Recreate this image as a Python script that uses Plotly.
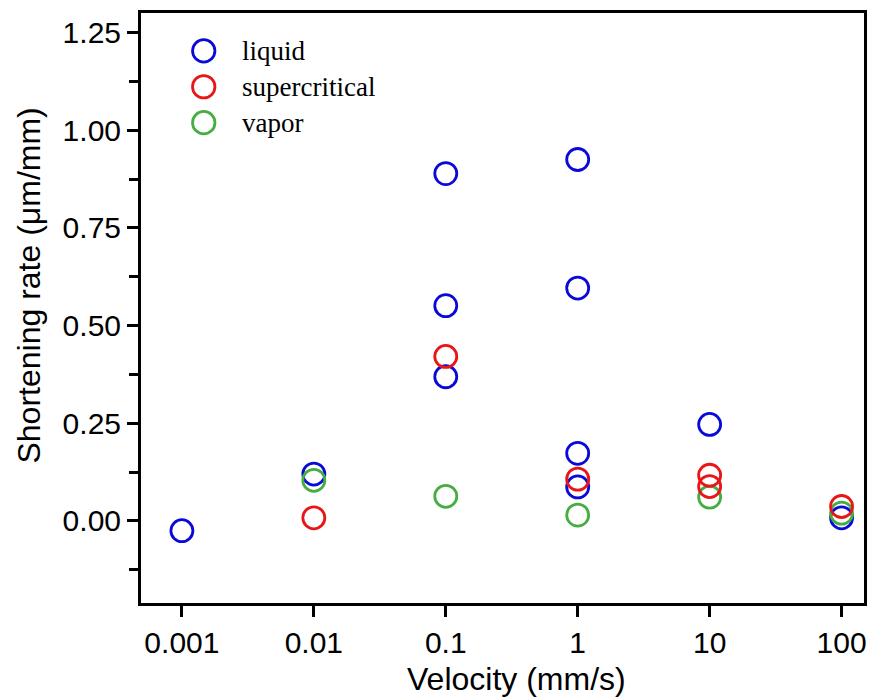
import plotly.graph_objects as go

# Data
liquid_x = [0.001, 0.01, 0.1, 0.1, 0.1, 1, 1, 1, 1, 10, 100]
liquid_y = [-0.025, 0.12, 0.889, 0.551, 0.369, 0.925, 0.596, 0.173, 0.087, 0.247, 0.008]

supercritical_x = [0.01, 0.1, 1, 10, 10, 100]
supercritical_y = [0.008, 0.421, 0.107, 0.117, 0.088, 0.037]

vapor_x = [0.01, 0.1, 1, 10, 100]
vapor_y = [0.104, 0.063, 0.015, 0.061, 0.02]

x_tickvals = [0.001, 0.01, 0.1, 1, 10, 100]
x_ticktext = ["0.001", "0.01", "0.1", "1", "10", "100"]
y_tickvals = [0.0, 0.25, 0.5, 0.75, 1.0, 1.25]
y_ticktext = ["0.00", "0.25", "0.50", "0.75", "1.00", "1.25"]

x_title = "Velocity (mm/s)"
y_title = "Shortening rate (μm/mm)"

series_names = ["liquid", "supercritical", "vapor"]
colors = {"liquid": "#0a0ad8", "supercritical": "#e81616", "vapor": "#46ad42"}

fig = go.Figure()
# drawing order: liquid, vapor, supercritical (supercritical on top)
for name, xs, ys in [("liquid", liquid_x, liquid_y),
                     ("vapor", vapor_x, vapor_y),
                     ("supercritical", supercritical_x, supercritical_y)]:
    fig.add_trace(go.Scatter(
        x=xs, y=ys, mode="markers", name=name, showlegend=False,
        marker=dict(symbol="circle-open", size=22, color=colors[name],
                    line=dict(width=2.8, color=colors[name])),
    ))

# Legend drawn as shapes + text to allow large symbols
L, R, T, B = 141, 867, 11, 603
W, H = R - L, B - T
leg_x_px = 204
leg_text_px = 240
leg_rows_px = [49, 85, 121]
for name, row in zip(series_names, leg_rows_px):
    xp = (leg_x_px - L) / W
    yp = (B - row) / H
    fig.add_shape(type="circle", xref="paper", yref="paper",
                  xsizemode="pixel", ysizemode="pixel",
                  xanchor=xp, yanchor=yp, x0=-11.2, x1=11.2, y0=-11.2, y1=11.2,
                  line=dict(color=colors[name], width=2.8))
    fig.add_annotation(x=(leg_text_px - L) / W, y=yp, xref="paper", yref="paper",
                       text=name, showarrow=False, xanchor="left", yanchor="middle",
                       font=dict(family="Liberation Serif, Times New Roman, serif",
                                 size=27, color="black"))

axis_font = dict(family="Liberation Sans, Arial, sans-serif", size=30, color="black")
title_font = dict(family="Liberation Sans, Arial, sans-serif", size=32, color="black")

fig.update_xaxes(
    type="log", range=[-3.31, 2.17],
    tickvals=x_tickvals, ticktext=x_ticktext,
    showgrid=False, zeroline=False,
    showline=True, linecolor="black", linewidth=3, mirror=True,
    ticks="outside", ticklen=11, tickwidth=2.5, tickcolor="black",
    tickfont=axis_font,
)
fig.update_yaxes(
    range=[-0.21, 1.3],
    tickvals=y_tickvals, ticktext=y_ticktext,
    showgrid=False, zeroline=False,
    showline=True, linecolor="black", linewidth=3, mirror=True,
    ticks="outside", ticklen=11, tickwidth=2.5, tickcolor="black",
    minor=dict(dtick=0.125, tick0=0, ticks="outside", ticklen=9, tickwidth=2.5, tickcolor="black"),
    tickfont=axis_font,
)

# Axis titles placed to match the reference
fig.add_annotation(x=(518 - L) / W, y=(B - 679) / H, xref="paper", yref="paper",
                   text=x_title, showarrow=False, xanchor="center", yanchor="middle",
                   font=title_font)
fig.add_annotation(x=(29 - L) / W, y=(B - 284) / H, xref="paper", yref="paper",
                   text=y_title, showarrow=False, xanchor="center", yanchor="middle",
                   textangle=-90, font=title_font)

fig.update_layout(
    width=877, height=700,
    margin=dict(l=L, r=877 - R, t=T, b=700 - B),
    paper_bgcolor="white", plot_bgcolor="white",
    showlegend=False,
)

fig.write_html("out.html")
